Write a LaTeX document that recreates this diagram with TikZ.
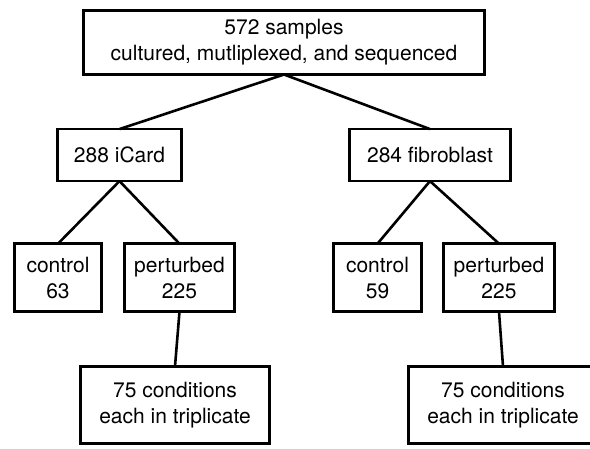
\documentclass[tikz,border=0pt]{standalone}
\usepackage{fontspec}
\setmainfont{TeX Gyre Heros}
\usepackage{tikz}
\usetikzlibrary{positioning}

\begin{document}
\begin{tikzpicture}
[x=1pt,y=-1pt,line width=2.6pt,node distance=54.6pt,font=\fontsize{21}{26}\selectfont]\tikzstyle{stage}
=[draw=black,fill=none,text=black,inner sep=0pt,outer sep=0pt,align=center]
\useasboundingbox (0,0) rectangle (590,449);
\node[stage,minimum width=401pt,minimum height=64pt] (1) at (284,42.5) {572 samples\\cultured, mutliplexed, and sequenced};
\node[stage,minimum width=124pt,minimum height=52pt] (2) [below=of 1,xshift=-164.5pt] {288 iCard};
\node[stage,minimum width=161pt,minimum height=52pt] (3) [below=of 1,xshift=146pt] {284 fibroblast};
\node[stage,minimum width=87pt,minimum height=68pt] (4) [below=62.6pt of 2,xshift=-61.5pt] {control\\63};
\node[stage,minimum width=110pt,minimum height=68pt] (5) [below=62.6pt of 2,xshift=60pt] {perturbed\\225};
\node[stage,minimum width=189pt,minimum height=77pt] (6) [below=of 5,xshift=-4.5pt] {75 conditions\\each in triplicate};
\node[stage,minimum width=88pt,minimum height=68pt] (7) [below=62.6pt of 3,xshift=-52.5pt] {control\\59};
\node[stage,minimum width=111pt,minimum height=68pt] (8) [below=62.6pt of 3,xshift=69pt] {perturbed\\225};
\node[stage,minimum width=189pt,minimum height=77pt] (9) [below=of 8,xshift=4pt] {75 conditions\\each in triplicate};

\path
(1.south) edge (2.north)
(1.south) edge (3.north)
(2.south) edge (4.north)
(2.south) edge (5.north)
(5.south) edge (6.north)
(3.south) edge (7.north)
(3.south) edge (8.north)
(8.south) edge (9.north)
;\end{tikzpicture}
\end{document}
